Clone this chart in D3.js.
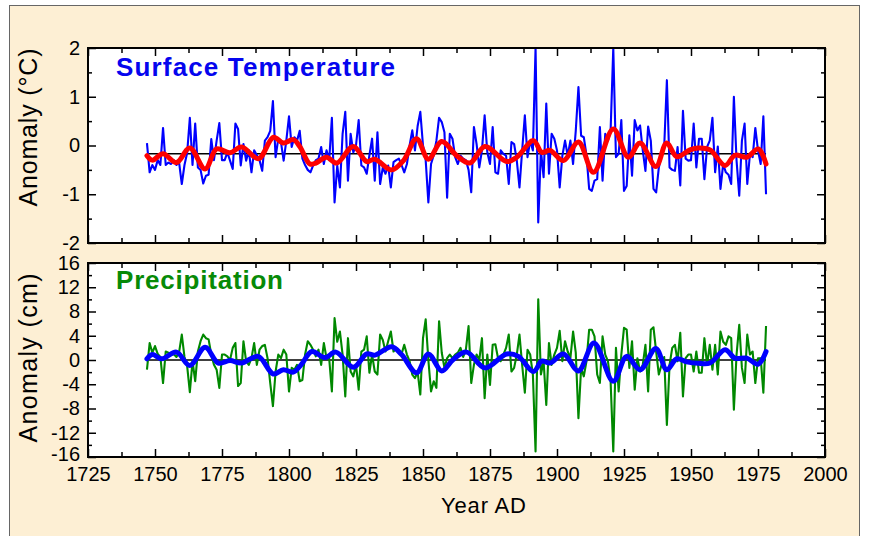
<!DOCTYPE html>
<html><head><meta charset="utf-8">
<script src="https://cdn.jsdelivr.net/npm/d3@7"></script>
<style>body{margin:0;background:#fff}svg{display:block}text{font-family:"Liberation Sans",Arial,Helvetica,sans-serif}</style>
</head><body><svg id="c" width="878" height="536"></svg>
<script>
// ---------------- data ----------------
const startYear = 1747;
const tempVals = [
  0.05, -0.55, -0.4,
  -0.5, -0.3, -0.4, 0.36, -0.4, -0.35, -0.38, -0.3, -0.4, -0.35,
  -0.79, -0.4, -0.15, 0.57, -0.4, 0.45, -0.45, -0.5, -0.78, -0.62,
  -0.6, 0.13, -0.3, 0.1, 0.46, -0.3, -0.3, -0.14, -0.31, -0.48,
  0.45, 0.34, -0.41, 0.03, -0.31, -0.1, -0.55, -0.1, -0.2, -0.3,
  -0.52, 0.1, 0.17, 0.3, 0.91, -0.24, 0.14, 0.07, -0.31, 0.1,
  0.6, -0.03, 0.17, 0.1, 0.3, -0.27, -0.4, -0.5, -0.55, -0.41,
  -0.3, -0.27, -0.03, -0.38, -0.1, -0.3, 0.57, -1.17, -0.41, -0.86,
  0.24, 0.69, -0.72, 0.24, -0.14, 0.0, 0.52, -0.41, -0.45, -0.58,
  -0.2, 0.14, -0.72, 0.27, -0.79, -0.45, -0.58, -0.41, -0.86, -0.34,
  -0.3, -0.27, -0.4, -0.55, -0.38, 0.0, 0.31, -0.1, 0.4, 0.69,
  0.0, -0.3, -1.17, -0.38, -0.2, 0.1, 0.57, 0.48, 0.27, -1.07,
  0.24, 0.14, -0.24, -0.38, -0.21, -0.27, -0.3, -0.5, -0.96, 0.38,
  0.03, -0.45, -0.1, 0.62, -0.14, -0.38, 0.38, -0.55, -0.58, -0.1,
  -0.17, -0.21, -0.79, 0.07, 0.03, -0.31, -0.86, -0.1, 0.62, -0.24,
  0.1, -0.1, 2.0, -1.58, -0.1, -0.65, 0.86, -0.58, 0.24, 0.14,
  -0.1, -0.86, -0.21, 0.1, -0.21, 0.1, -0.38, 0.3, 1.2, 0.2,
  0.17, -0.2, -0.89, -0.93, -0.72, -0.69, 0.38, -0.72, 0.24, 0.1,
  0.3, 2.0, -0.24, -0.17, 0.52, -0.93, -0.83, 0.21, -0.62, 0.52,
  0.31, 0.41, -0.1, -0.52, 0.39, 0.1, -0.89, -0.96, -0.45, -0.2,
  -0.03, 1.34, -0.45, -0.5, -0.52, -0.03, -0.82, 0.71, -0.27, -0.31,
  -0.3, 0.45, -0.45, 0.14, 0.14, -0.69, -0.03, 0.1, 0.57, -0.55,
  -0.02, -0.89, -0.38, -0.55, -0.6, -0.79, 1.0, -0.31, -1.03, 0.1,
  0.45, -0.79, -0.17, -0.24, 0.36, -0.1, -0.38, 0.6, -1.0
];
const precipVals = [
  -1.6, 2.8, 1.2,
  2.3, 1.0, 0.5, -3.8, 1.4, 1.2, 0.8, 1.0, 0.5, 1.3,
  4.2, 0.5, -1.0, -5.3, -0.2, -3.5, 1.4, 3.1, 4.2, 3.6,
  3.4, 0.9, -0.8, -1.6, -4.6, 0.9, 0.9, 0.6, 0.0, 2.0,
  2.8, -4.3, -3.8, 3.1, -0.2, -0.8, 0.3, 2.8, -0.8, 1.7,
  2.3, 2.5, 0.3, -3.8, -7.6, -1.9, 0.9, 0.3, 1.7, 0.9,
  -5.2, -1.3, -1.6, -0.8, -3.5, -3.3, 0.9, 3.1, 2.5, 1.7,
  0.6, 1.7, -0.8, 2.8, 0.3, 0.2, -5.2, 6.9, 3.0, 4.7,
  0.9, -6.0, 3.6, -1.9, -2.7, -0.8, -4.9, 1.4, 1.7, 3.9,
  -2.1, 0.9, -1.9, -2.4, 4.2, 3.3, 1.4, 3.1, 4.7, 1.4,
  2.0, 1.4, 1.0, 2.5, 0.9, -0.2, -2.4, -3.0, -2.0, -5.7,
  3.6, 6.7, 0.0, -5.2, -3.5, -4.6, 6.4, 1.2, -1.3, 0.3,
  0.9, 0.3, 0.9, 1.2, 2.0, 0.5, 1.7, 5.6, -3.8, -0.8,
  0.9, 0.0, 3.6, -6.3, 0.9, -4.1, 2.5, 2.6, 0.3, -0.2,
  0.9, 2.0, 4.2, -1.9, -1.3, 0.9, 4.2, -0.8, -5.4, 1.7,
  0.9, -2.4, -15.1, 10.0, -2.4, -0.2, -7.4, 2.8, -0.8, 0.9,
  2.0, 4.8, -0.2, 3.1, 1.4, 0.3, 4.7, 1.2, -9.6, -1.3,
  -2.7, -0.2, 5.0, 5.0, 3.9, -2.4, -3.8, 3.9, 0.9, -0.2,
  -3.5, -15.1, 2.0, -5.2, 0.9, 5.3, 5.0, -1.3, 3.1, -4.9,
  0.3, -1.9, -0.8, 2.5, -5.2, 5.0, 5.4, 1.4, -2.4, -0.8,
  0.5, -10.7, -0.8, 2.0, 2.5, -0.2, 4.5, -6.0, 0.3, 0.9,
  0.9, -1.9, 1.4, -2.1, -2.1, 3.6, -0.8, 2.5, -1.6, 2.5,
  -2.4, 4.7, 3.0, 2.5, 3.9, 3.6, -8.2, 0.9, 5.8, -1.3,
  -3.8, 4.2, 0.9, 1.4, -3.8, 0.3, 0.3, -5.4, 5.6
];
const tempSmoothYears = [1747,1749,1753,1758,1763,1768.7,1773,1778,1782.3,1788.6,1794.2,1797.9,1801.6,1804,1807.8,1810,1814,1817.8,1824,1829,1832,1838.3,1842.7,1847.6,1852,1857,1862.6,1867.5,1873.1,1881.2,1885,1891.2,1894.3,1897.4,1902.4,1908,1913.6,1921,1926.6,1931,1936.9,1940.9,1944.7,1949.6,1952.7,1957.1,1962.7,1966.4,1970.8,1975.1,1978];
const tempSmoothVals  = [-0.21,-0.3,-0.17,-0.35,-0.05,-0.48,-0.07,-0.15,-0.03,-0.27,0.17,0.05,0.12,-0.02,-0.38,-0.36,-0.24,-0.36,-0.02,-0.33,-0.28,-0.5,-0.31,0.14,-0.28,0.08,-0.21,-0.36,-0.02,-0.33,-0.24,0.1,-0.14,-0.1,-0.31,0.07,-0.55,0.34,-0.24,0.05,-0.43,0.05,-0.23,-0.09,-0.05,-0.09,-0.41,-0.2,-0.24,-0.07,-0.38];
const precipSmoothYears = [1747,1749,1752.5,1758,1763,1768.7,1773.6,1778,1782.3,1788.5,1794.1,1797.9,1801.6,1804.5,1808.5,1813.4,1817.5,1824,1829,1832.1,1838.3,1842,1847.6,1852,1857,1861.3,1866.3,1873.1,1881.2,1885.6,1891.2,1894.3,1897.4,1902.4,1908,1913.8,1921,1926,1931,1936.9,1940.9,1944.7,1948.4,1952.7,1957.1,1962.7,1966.4,1970.8,1975,1978];
const precipSmoothVals  = [0.2,0.9,0.2,1.3,-0.9,2.1,-0.5,-0.1,-0.5,0.6,-2.3,-1.6,-2.0,-0.8,1.4,0.4,1.3,-1.2,1.0,0.8,2.2,0.9,-2.1,1.0,-1.8,0.1,1.3,-1.3,1.0,0.6,-1.9,-0.2,-0.5,1.0,-1.8,2.8,-3.5,0.6,-1.6,1.9,-1.6,0.2,-0.3,-0.55,-0.5,1.7,0.3,0.3,-0.7,1.4];
const tempRef = -0.17;
const precipRef = 0;
const xTickVals = d3.range(1725, 2001, 25);
const xMinorVals = d3.range(1737.5, 2000, 25);
const tempTickVals = [-2, -1, 0, 1, 2];
const tempMinorVals = [-1.5, -0.5, 0.5, 1.5];
const precipTickVals = d3.range(-16, 17, 4);
const precipMinorVals = d3.range(-14, 15, 4);

// ---------------- drawing ----------------
const svg = d3.select('#c');
svg.append('rect').attr('x', 9.5).attr('y', 5.5).attr('width', 850).attr('height', 545)
  .attr('fill', '#fdefd4').attr('stroke', '#666').attr('stroke-width', 1);

const L = 88, R = 825;
const x = d3.scaleLinear().domain([1725, 2000]).range([L, R]);
const lastYear = startYear + tempVals.length - 1;

function panel(opt) {
  const y = d3.scaleLinear().domain(opt.domain).range([opt.bottom, opt.top]);
  const g = svg.append('g');
  g.append('rect').attr('x', L).attr('y', opt.top).attr('width', R - L).attr('height', opt.bottom - opt.top).attr('fill', '#fff');
  const cid = 'clip' + opt.id;
  svg.append('defs').append('clipPath').attr('id', cid).append('rect')
    .attr('x', L).attr('y', opt.top).attr('width', R - L).attr('height', opt.bottom - opt.top);
  const pg = g.append('g').attr('clip-path', `url(#${cid})`);
  pg.append('line').attr('x1', x(startYear)).attr('x2', x(lastYear)).attr('y1', y(opt.ref)).attr('y2', y(opt.ref))
    .attr('stroke', '#000').attr('stroke-width', 1.5);
  const raw = opt.vals.map((v, i) => [startYear + i, v]);
  pg.append('path').datum(raw)
    .attr('d', d3.line().x(d => x(d[0])).y(d => y(d[1])))
    .attr('fill', 'none').attr('stroke', opt.rawColor).attr('stroke-width', 2.1).attr('stroke-linejoin', 'round');
  const sm = opt.sYears.map((yr, i) => [yr, opt.sVals[i]]);
  pg.append('path').datum(sm)
    .attr('d', d3.line().curve(d3.curveCatmullRom.alpha(0.5)).x(d => x(d[0])).y(d => y(d[1])))
    .attr('fill', 'none').attr('stroke', opt.smColor).attr('stroke-width', 5).attr('stroke-linecap', 'round').attr('stroke-linejoin', 'round');

  const ax = (a, tr) => {
    const s = g.append('g').attr('transform', tr).call(a);
    s.select('.domain').remove();
    s.attr('font-size', 20).attr('font-family', '"Liberation Sans", Arial, sans-serif');
    s.selectAll('line').attr('stroke', '#000').attr('stroke-width', 1.5);
    s.selectAll('text').attr('fill', '#000');
    return s;
  };
  const yl = ax(d3.axisLeft(y).tickValues(opt.ticks).tickSize(-8).tickPadding(8).tickFormat(d => String(d)), `translate(${L},0)`);
  yl.selectAll('text').filter(d => d === opt.domain[0] && opt.xLabels).attr('dy', '0.18em');
  ax(d3.axisLeft(y).tickValues(opt.minors).tickSize(-4).tickFormat(''), `translate(${L},0)`);
  ax(d3.axisRight(y).tickValues(opt.ticks).tickSize(-8).tickFormat(''), `translate(${R},0)`);
  ax(d3.axisRight(y).tickValues(opt.minors).tickSize(-4).tickFormat(''), `translate(${R},0)`);
  ax(d3.axisTop(x).tickValues(xTickVals).tickSize(-8).tickFormat(''), `translate(0,${opt.top})`);
  ax(d3.axisTop(x).tickValues(xMinorVals).tickSize(-5).tickFormat(''), `translate(0,${opt.top})`);
  ax(d3.axisBottom(x).tickValues(xTickVals).tickSize(-8).tickPadding(10).tickFormat(opt.xLabels ? d => String(d) : ''), `translate(0,${opt.bottom})`);
  ax(d3.axisBottom(x).tickValues(xMinorVals).tickSize(-5).tickFormat(''), `translate(0,${opt.bottom})`);
  g.append('rect').attr('x', L).attr('y', opt.top).attr('width', R - L).attr('height', opt.bottom - opt.top)
    .attr('fill', 'none').attr('stroke', '#000').attr('stroke-width', 2);
  g.append('text').attr('x', 116).attr('y', opt.titleY).attr('font-size', 26).attr('font-weight', 'bold')
    .attr('fill', opt.titleColor).attr('textLength', opt.titleLen).attr('lengthAdjust', 'spacing').text(opt.title);
  g.append('text').attr('transform', `translate(36.5,${opt.labelY}) rotate(-90)`).attr('text-anchor', 'middle')
    .attr('font-size', 25).attr('fill', '#000').attr('textLength', opt.labelLen).attr('lengthAdjust', 'spacing').text(opt.label);
}

panel({ id: 't', top: 48, bottom: 243, domain: [-2, 2], vals: tempVals, sYears: tempSmoothYears, sVals: tempSmoothVals,
  ref: tempRef, rawColor: '#0000ff', smColor: '#ff0000', ticks: tempTickVals, minors: tempMinorVals, xLabels: false,
  title: 'Surface Temperature', titleColor: '#0505ee', titleY: 76, titleLen: 279, label: 'Anomaly (\u00B0C)', labelY: 127.5, labelLen: 158 });
panel({ id: 'p', top: 263, bottom: 457, domain: [-16, 16], vals: precipVals, sYears: precipSmoothYears, sVals: precipSmoothVals,
  ref: precipRef, rawColor: '#008800', smColor: '#0000ff', ticks: precipTickVals, minors: precipMinorVals, xLabels: true,
  title: 'Precipitation', titleColor: '#078a07', titleY: 289, titleLen: 167, label: 'Anomaly (cm)', labelY: 358, labelLen: 169 });

svg.append('text').attr('x', 441).attr('y', 513).attr('font-size', 22).attr('fill', '#000')
  .attr('textLength', 85).attr('lengthAdjust', 'spacing').text('Year AD');
</script></body></html>
